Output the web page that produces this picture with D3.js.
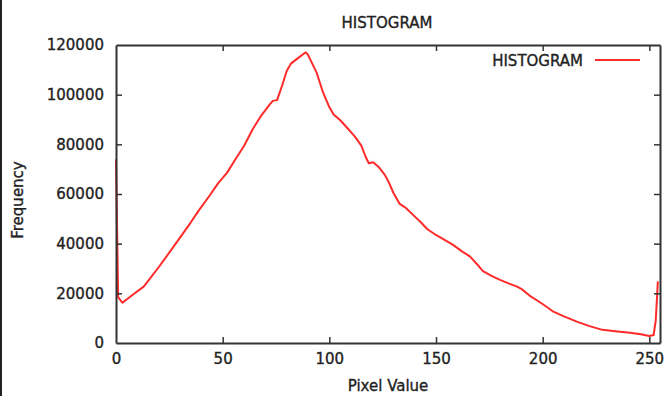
<!DOCTYPE html>
<html>
<head>
<meta charset="utf-8">
<script src="https://cdn.jsdelivr.net/npm/d3@7"></script>
<style>
  html, body { margin: 0; padding: 0; background: #fff; }
  svg { display: block; }
  text { font-family: "DejaVu Sans", Verdana, sans-serif; fill: #222; stroke: #222; stroke-width: 0.35px; }
</style>
</head>
<body>
<svg id="chart" width="672" height="396"></svg>
<script>
// ---- data ----
const pixelValues = [0, 1, 3, 8, 13, 20, 28, 35, 39, 44, 48, 52, 56, 60, 64, 68, 72, 73.5, 75.5, 78, 80, 82, 85, 88, 89, 90, 92, 94, 97, 100, 102, 105, 108, 112, 115, 117, 118.5, 120.5, 123, 126, 128, 130, 133, 136, 140, 143, 146, 150, 155, 158, 162, 166, 170, 172, 176, 180, 184, 188, 190, 194, 198, 202, 205, 210, 216, 222, 228, 235, 241, 246, 250, 252, 253, 254];
const frequencies = [74000, 18500, 16200, 19500, 22700, 30500, 40000, 48500, 53600, 59500, 64500, 68500, 74000, 79300, 86000, 91500, 96000, 97500, 97800, 104000, 109500, 112500, 114500, 116500, 117000, 116000, 112500, 109000, 101000, 95000, 92000, 89800, 87000, 83100, 79500, 75000, 72400, 72800, 71000, 67700, 64500, 60500, 56000, 54300, 51000, 48500, 45800, 43500, 41000, 39500, 37000, 34800, 31000, 28900, 27000, 25400, 24000, 22700, 21800, 19000, 16800, 14500, 12600, 10700, 8600, 6800, 5300, 4600, 4100, 3500, 2800, 3200, 9000, 24800];
const xTicks = [0, 50, 100, 150, 200, 250];
const yTicks = [0, 20000, 40000, 60000, 80000, 100000, 120000];
const title = "HISTOGRAM";
const seriesName = "HISTOGRAM";
const xLabel = "Pixel Value";
const yLabel = "Frequency";

// ---- layout ----
const svg = d3.select("#chart");
const L = 116, R = 660, T = 45, B = 343;
const x = d3.scaleLinear().domain([0, 255]).range([L, R]);
const y = d3.scaleLinear().domain([0, 120000]).range([B, T]);
const axisColor = "#333";
const tickLen = 6;
const lineColor = "#ff2a2a";

// page edge line (scan artifact on the left)
svg.append("rect").attr("x", 0).attr("y", 0).attr("width", 2).attr("height", 396).attr("fill", "#222");

// curve
const data = pixelValues.map((v, i) => ({ v, f: frequencies[i] }));
svg.append("path")
  .datum(data)
  .attr("fill", "none")
  .attr("stroke", lineColor)
  .attr("stroke-width", 2)
  .attr("stroke-linejoin", "round")
  .attr("d", d3.line().x(d => x(d.v)).y(d => y(d.f)));

// axes (gnuplot style: mirrored inward ticks)
const gB = svg.append("g").attr("transform", `translate(0,${B})`)
  .call(d3.axisBottom(x).tickValues(xTicks).tickSizeInner(-tickLen).tickSizeOuter(0).tickPadding(10));
const gT = svg.append("g").attr("transform", `translate(0,${T})`)
  .call(d3.axisTop(x).tickValues(xTicks).tickSizeInner(-tickLen).tickSizeOuter(0).tickFormat(""));
const gL = svg.append("g").attr("transform", `translate(${L},0)`)
  .call(d3.axisLeft(y).tickValues(yTicks).tickSizeInner(-tickLen).tickSizeOuter(0).tickPadding(12).tickFormat(d3.format("d")));
const gR = svg.append("g").attr("transform", `translate(${R},0)`)
  .call(d3.axisRight(y).tickValues(yTicks).tickSizeInner(-tickLen).tickSizeOuter(0).tickFormat(""));

[gB, gT, gL, gR].forEach(g => {
  g.select(".domain").attr("stroke", axisColor).attr("stroke-width", 2);
  g.selectAll(".tick line").attr("stroke", axisColor).attr("stroke-width", 1.5);
  g.selectAll(".tick text").attr("font-family", "DejaVu Sans, Verdana, sans-serif").attr("font-size", 15).attr("fill", "#222");
});
// remove ticks coinciding with the frame
gT.selectAll(".tick").filter(d => d === 0).select("line").remove();
gB.selectAll(".tick").filter(d => d === 0).select("line").remove();
gL.selectAll(".tick").filter(d => d === 0 || d === 120000).select("line").remove();
gR.selectAll(".tick").filter(d => d === 0 || d === 120000).select("line").remove();

// title
svg.append("text").attr("x", 387).attr("y", 28).attr("text-anchor", "middle")
  .attr("font-size", 15).text(title);

// legend
svg.append("text").attr("x", 583).attr("y", 65.5).attr("text-anchor", "end")
  .attr("font-size", 15).text(seriesName);
svg.append("line").attr("x1", 595).attr("x2", 640).attr("y1", 60).attr("y2", 60)
  .attr("stroke", lineColor).attr("stroke-width", 2);

// axis labels
svg.append("text").attr("x", 388).attr("y", 391).attr("text-anchor", "middle")
  .attr("font-size", 15).text(xLabel);
svg.append("text").attr("transform", "translate(23,200) rotate(-90)").attr("text-anchor", "middle")
  .attr("font-size", 15).text(yLabel);
</script>
</body>
</html>
